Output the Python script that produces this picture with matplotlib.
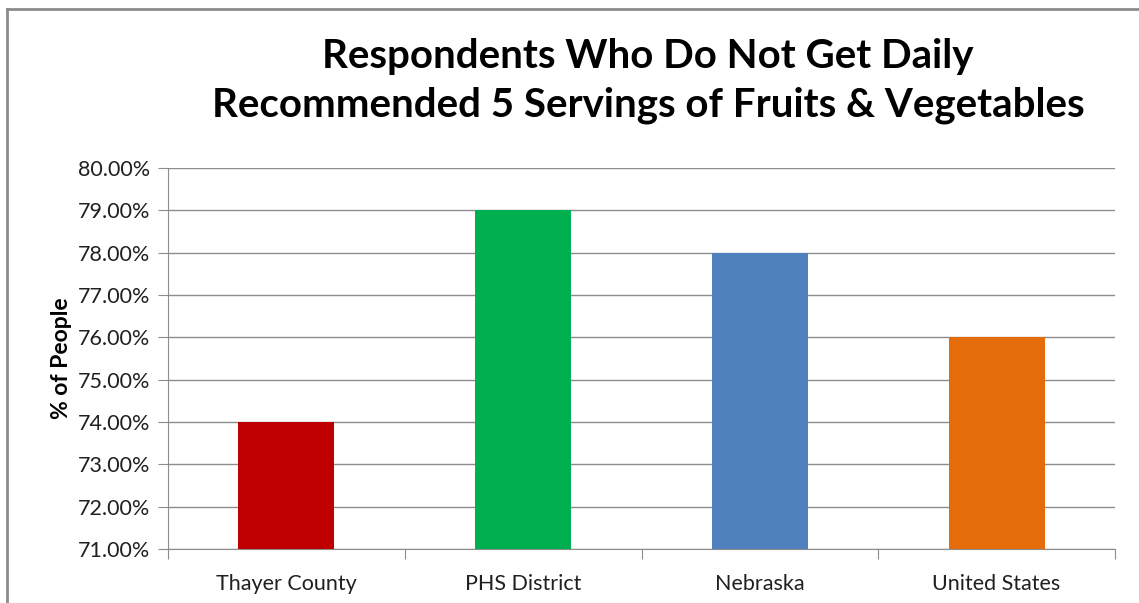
import matplotlib.pyplot as plt
from matplotlib.lines import Line2D
from matplotlib.ticker import FuncFormatter, MultipleLocator

categories = ["Thayer County", "PHS District", "Nebraska", "United States"]
values = [74.0, 79.0, 78.0, 76.0]
bar_colors = ["#C00000", "#00B050", "#4F81BD", "#E46C0A"]

title = "Respondents Who Do Not Get Daily\nRecommended 5 Servings of Fruits & Vegetables"
ylabel = "% of People"

plt.rcParams["font.family"] = ["Lato", "DejaVu Sans"]

W, H = 1139, 603
fig = plt.figure(figsize=(W / 100, H / 100), dpi=100)

# plot area in pixel coords
left, right, top, bottom = 168, 1115, 168, 549
ax = fig.add_axes([left / W, 1 - bottom / H, (right - left) / W, (bottom - top) / H])

x = range(len(categories))
ax.bar(x, [v - 71 for v in values], bottom=71, width=0.405, color=bar_colors, zorder=3)

ax.set_xlim(-0.5, len(categories) - 0.5)
ax.set_ylim(71, 80)
ax.yaxis.set_major_locator(MultipleLocator(1))
ax.yaxis.set_major_formatter(FuncFormatter(lambda v, _: f"{v:.2f}%"))
ax.grid(axis="y", color="#8c8c8c", linewidth=1, zorder=0)

ax.set_xticks([i - 0.5 for i in range(len(categories) + 1)], minor=False)
ax.set_xticklabels([])
ax.set_xticks(list(x), minor=True)
ax.set_xticklabels(categories, minor=True, fontsize=15.5, color="#202020")
ax.tick_params(axis="x", which="major", length=7, color="#8c8c8c", direction="out")
ax.tick_params(axis="x", which="minor", length=0, pad=18)
ax.tick_params(axis="y", length=7, color="#8c8c8c", labelsize=15.5, labelcolor="#202020", pad=6)

for s in ["top", "right"]:
    ax.spines[s].set_visible(False)
for s in ["left", "bottom"]:
    ax.spines[s].set_color("#8c8c8c")

ax.set_ylabel(ylabel, fontsize=16.5, fontweight="bold", labelpad=4)

fig.text(648 / W, 1 - 81 / H, title, ha="center", va="center", fontsize=29,
         fontweight="bold", linespacing=1.4)

# outer chart frame
fig.add_artist(Line2D([7 / W, 7 / W], [0, 1 - 9 / H], color="#8c8c8c", lw=2))
fig.add_artist(Line2D([7 / W, 1], [1 - 9 / H, 1 - 9 / H], color="#8c8c8c", lw=2))

fig.savefig("out.png", dpi=100)
